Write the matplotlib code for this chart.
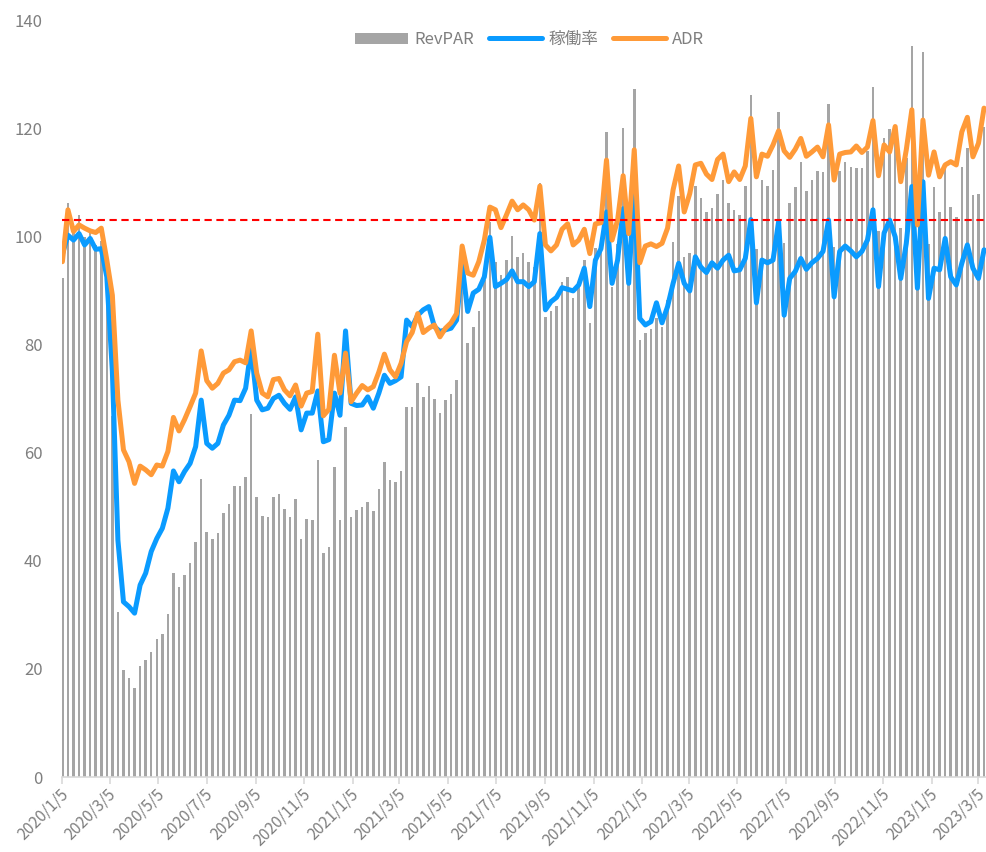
import datetime as dt
import numpy as np
import pandas as pd
import matplotlib
matplotlib.use('Agg')
import matplotlib.pyplot as plt
import matplotlib.dates as mdates
import matplotlib.transforms as mtransforms

plt.rcParams['font.family'] = ['Noto Sans CJK JP', 'DejaVu Sans']

# weekly data, 2020/1/5 .. 2023/3/12
weeks = pd.date_range('2020-01-05', periods=167, freq='7D')

revpar = [
    92.2, 106.2, 101.0, 103.9, 99.9, 100.6, 98.3, 99.2, 88.4, 66.8,
    30.5, 19.8, 18.4, 16.5, 20.5, 21.6, 23.2, 25.5, 26.4, 30.1,
    37.8, 35.1, 37.4, 39.6, 43.5, 55.1, 45.4, 44.0, 45.1, 48.9,
    50.5, 53.8, 53.8, 55.4, 67.1, 51.7, 48.3, 48.1, 51.7, 52.3,
    49.6, 48.0, 51.4, 44.1, 47.8, 47.6, 58.6, 41.5, 42.6, 57.4,
    47.5, 64.8, 48.1, 49.4, 50.0, 50.8, 49.2, 53.3, 58.3, 54.9,
    54.6, 56.6, 68.5, 68.4, 72.8, 70.3, 72.4, 69.9, 67.4, 69.7,
    70.8, 73.4, 94.0, 80.3, 83.3, 86.1, 91.9, 102.7, 95.3, 92.8,
    95.6, 100.1, 96.2, 97.0, 95.3, 94.3, 109.9, 85.0, 86.1, 87.1,
    91.6, 92.5, 88.5, 90.7, 95.6, 84.0, 97.8, 98.7, 119.3, 90.7,
    98.5, 120.0, 91.8, 127.2, 80.8, 82.2, 82.8, 84.8, 83.3, 88.3,
    99.0, 107.5, 96.1, 97.0, 109.3, 107.1, 104.4, 105.3, 107.8, 110.4,
    106.2, 104.9, 103.9, 109.3, 126.1, 97.7, 110.5, 109.3, 112.3, 122.9,
    98.8, 106.2, 109.2, 113.8, 108.4, 110.4, 112.1, 111.9, 124.5, 98.0,
    112.0, 113.8, 112.9, 112.7, 112.7, 115.7, 127.7, 100.9, 118.1, 119.8,
    120.2, 101.6, 114.5, 135.1, 92.3, 134.1, 98.5, 109.2, 104.4, 112.6,
    105.5, 103.5, 112.9, 116.3, 107.6, 107.8, 120.3,
]

occupancy = [
    96.7, 100.2, 99.3, 100.5, 98.4, 99.6, 97.6, 97.7, 92.5, 75.0,
    43.8, 32.4, 31.5, 30.3, 35.5, 37.7, 41.7, 44.1, 46.0, 49.7,
    56.6, 54.6, 56.5, 58.0, 61.1, 69.7, 61.7, 60.8, 61.7, 65.1,
    66.9, 69.7, 69.6, 71.9, 79.3, 69.7, 67.9, 68.2, 70.0, 70.6,
    69.1, 68.0, 70.3, 64.2, 67.3, 67.3, 71.4, 62.0, 62.4, 71.0,
    66.9, 82.5, 69.1, 68.7, 68.8, 70.3, 68.2, 71.0, 74.3, 72.8,
    73.3, 74.0, 84.5, 83.3, 85.4, 86.4, 87.0, 83.3, 82.4, 82.7,
    83.0, 84.5, 94.7, 86.1, 89.5, 90.2, 92.5, 99.8, 90.7, 91.3,
    92.0, 93.6, 91.6, 91.6, 90.7, 91.6, 100.5, 86.4, 87.9, 88.7,
    90.5, 90.2, 89.9, 91.0, 94.1, 87.0, 95.6, 97.7, 104.5, 91.3,
    95.6, 105.1, 91.3, 109.0, 84.8, 83.6, 84.2, 87.7, 84.0, 87.0,
    91.3, 95.0, 91.3, 89.9, 96.2, 94.3, 93.3, 95.1, 94.1, 95.6,
    96.5, 93.6, 93.8, 95.9, 103.1, 87.7, 95.6, 95.1, 95.6, 102.7,
    85.4, 92.2, 93.5, 95.9, 93.9, 95.1, 95.9, 97.2, 103.0, 88.8,
    97.2, 98.2, 97.3, 96.2, 97.2, 99.3, 104.9, 90.7, 100.6, 103.0,
    99.9, 92.2, 98.7, 109.2, 90.4, 110.1, 88.5, 94.1, 93.8, 99.6,
    92.5, 91.0, 95.0, 98.4, 94.1, 92.2, 97.5,
]

adr = [
    95.3, 104.9, 100.9, 102.1, 101.5, 101.0, 100.7, 101.5, 95.6, 89.1,
    69.7, 60.5, 58.3, 54.3, 57.5, 56.8, 55.9, 57.7, 57.5, 60.2,
    66.5, 64.0, 66.1, 68.5, 71.0, 78.8, 73.3, 71.9, 72.8, 74.7,
    75.3, 76.8, 77.1, 76.6, 82.5, 74.7, 71.0, 70.3, 73.5, 73.7,
    71.6, 70.5, 72.5, 68.6, 71.0, 71.3, 81.9, 66.8, 68.0, 78.0,
    71.0, 78.4, 69.4, 71.0, 72.4, 71.6, 72.2, 74.9, 78.2, 75.3,
    74.0, 76.5, 80.5, 82.2, 85.7, 82.2, 83.0, 83.6, 81.4, 83.0,
    84.0, 85.7, 98.2, 93.2, 92.8, 95.3, 99.3, 105.4, 104.9, 101.6,
    104.0, 106.5, 104.9, 105.8, 104.9, 103.0, 109.3, 98.4, 97.3, 98.4,
    101.3, 102.3, 98.4, 99.3, 101.3, 96.8, 102.3, 102.5, 114.1, 99.3,
    103.0, 111.2, 100.5, 116.0, 95.1, 98.2, 98.6, 98.1, 98.7, 101.5,
    108.6, 113.0, 104.5, 107.9, 113.2, 113.5, 111.5, 110.5, 114.2, 115.2,
    110.1, 111.9, 110.5, 113.0, 121.8, 111.0, 115.2, 114.8, 116.9, 119.5,
    115.8, 114.6, 116.1, 118.1, 114.8, 115.6, 116.5, 114.7, 120.6, 110.4,
    115.2, 115.5, 115.6, 116.7, 115.5, 116.5, 121.4, 111.2, 116.9, 115.6,
    120.3, 110.1, 116.0, 123.4, 102.1, 121.5, 111.3, 115.6, 111.0, 113.2,
    113.8, 113.2, 119.3, 122.0, 114.7, 117.2, 123.7,
]

target = 103

# tick dates every two months on the 5th
tick_dates = []
y, m = 2020, 1
while (y, m) <= (2023, 3):
    tick_dates.append(dt.datetime(y, m, 5))
    m += 2
    if m > 12:
        m -= 12
        y += 1
tick_labels = [f"{d.year}/{d.month}/{d.day}" for d in tick_dates]

gray_txt = '#7f7f7f'

fig = plt.figure(figsize=(9.86, 8.52), dpi=100)
ax = fig.add_axes([62 / 986, 75 / 852, 924 / 986, 757 / 852])

bars = ax.bar(weeks, revpar, width=3.2, color='#a5a5a5', label='RevPAR', zorder=1)
l_occ, = ax.plot(weeks, occupancy, color='#0a9bff', lw=3.6, label='稼働率',
                 solid_joinstyle='round', solid_capstyle='round', zorder=2)
l_adr, = ax.plot(weeks, adr, color='#ff9a38', lw=3.6, label='ADR',
                 solid_joinstyle='round', solid_capstyle='round', zorder=3)
ax.hlines(target, weeks[0], weeks[-1], colors='#ff0000', lw=1.5,
          linestyles=(0, (3.5, 2.2)), zorder=4)

ax.set_ylim(0, 140)
ax.set_yticks(np.arange(0, 141, 20))
ax.set_xlim(weeks[0] - pd.Timedelta(hours=12), weeks[-1] + pd.Timedelta(days=2.5))
ax.set_xticks(tick_dates)
ax.set_xticklabels([])

# date labels drawn as texts so they can sit a touch left of each tick
lbl_trans = ax.get_xaxis_transform() + mtransforms.ScaledTranslation(
    -2 / 72, -6 / 72, fig.dpi_scale_trans)
for d, lbl in zip(tick_dates, tick_labels):
    ax.text(mdates.date2num(d), 0, lbl, transform=lbl_trans, rotation=45,
            ha='right', va='top', rotation_mode='anchor',
            fontsize=11.3, color=gray_txt, clip_on=False)

for s in ['top', 'right', 'left']:
    ax.spines[s].set_visible(False)
ax.spines['bottom'].set_color('#d9d9d9')
ax.spines['bottom'].set_linewidth(1.2)
ax.tick_params(axis='y', length=0, pad=14, labelsize=12, labelcolor=gray_txt)
ax.tick_params(axis='x', length=5, width=1.2, color='#d9d9d9')

leg = ax.legend([bars, l_occ, l_adr], ['RevPAR', '稼働率', 'ADR'],
                loc='center', bbox_to_anchor=(0.506, 0.974), ncol=3,
                frameon=False, fontsize=12, handlelength=3.2,
                handletextpad=0.35, columnspacing=0.9)
for t in leg.get_texts():
    t.set_color(gray_txt)

fig.savefig('out.png', dpi=100)
